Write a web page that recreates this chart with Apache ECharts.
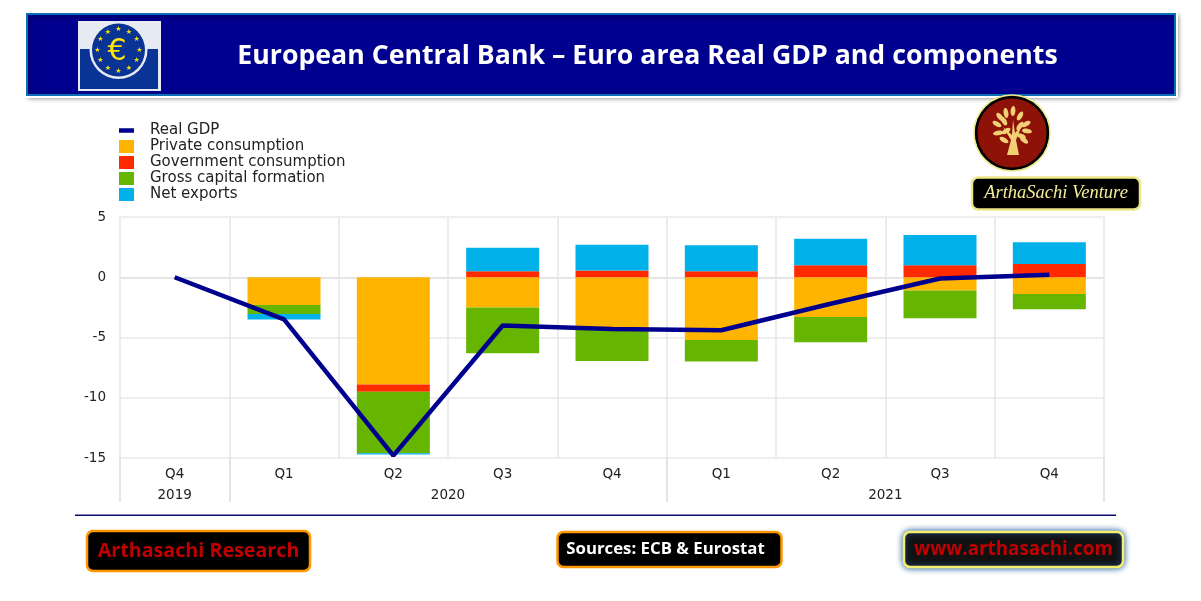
<!DOCTYPE html>
<html><head><meta charset="utf-8">
<style>html,body{margin:0;padding:0;background:#fff}#c{width:1201px;height:601px}</style>
<script src="https://cdn.jsdelivr.net/npm/echarts@6/dist/echarts.min.js"></script></head>
<body><div id="c"></div>
<script>
const quarters = ['Q4','Q1','Q2','Q3','Q4','Q1','Q2','Q3','Q4'];
const years = ['2019','2020','2021'];
const realGdp = [0,-3.5,-14.8,-4.0,-4.3,-4.4,-2.2,-0.1,0.2];
const privateConsumption = [0,-2.3,-8.9,-2.5,-4.2,-5.2,-3.3,-1.1,-1.4];
const governmentConsumption = [0,0,-0.6,0.5,0.55,0.5,1.0,1.0,1.1];
const grossCapitalFormation = [0,-0.75,-5.1,-3.8,-2.75,-1.8,-2.1,-2.3,-1.25];
const netExports = [0,-0.45,-0.1,1.95,2.15,2.15,2.2,2.5,1.8];
const C = {gdp:'#00008f',priv:'#ffb400',gov:'#ff2a00',gcf:'#66b500',net:'#00b1ea'};
const chart = echarts.init(document.getElementById('c'));
const txt = '#222';
const font = 'DejaVu Sans';
function bar(name,data,color){return {name,type:'bar',stack:'gdp',data,barWidth:73,itemStyle:{color},z:2,silent:true};}
const stars=[];for(let i=0;i<12;i++){const a=i*Math.PI/6;stars.push({type:'text',style:{text:'★',x:118.5+Math.sin(a)*21,y:50-Math.cos(a)*21,fill:'#ffe600',font:'7px DejaVu Sans',align:'center',verticalAlign:'middle'},z:13});}
const leaves=[[1000,117,-40],[1006,113,-10],[1013,111,5],[1020,116,30],[997,124,-60],[1004,121,-30],[1026,124,60],[1020,126,40],[998,133,80],[1006,131,60],[1027,131,100],[1021,136,110],[1004,140,120],[1024,140,130]];
const leafEls=leaves.map(l=>({type:'ellipse',shape:{cx:0,cy:0,rx:2.4,ry:5},x:l[0],y:l[1],rotation:-l[2]*Math.PI/180,style:{fill:'#f0cf75'},z:11}));
function box(x,y,w,h,stroke,fill,label,color,font2,shadow,tx){return [
 {type:'rect',shape:{x,y,width:w,height:h,r:6},style:Object.assign({fill,stroke,lineWidth:2.5},shadow?{shadowBlur:6,shadowColor:'#1d5c99'}:{}),z:10},
 {type:'text',style:{text:label,x:tx||x+w/2,y:y+h/2,fill:color,font:font2,align:'center',verticalAlign:'middle'},z:11}];}
chart.setOption({
 animation:false,backgroundColor:'#fff',
 grid:{left:120,top:217,width:984,height:241,containLabel:false},
 legend:{orient:'vertical',left:119,top:123,padding:0,itemGap:1,itemWidth:15,itemHeight:13,
  textStyle:{fontFamily:font,fontSize:15,lineHeight:13,color:txt,padding:[0,0,0,11]},
  data:[{name:'Real GDP',icon:'path://M0 4.5h15v4.5H0z'},{name:'Private consumption',icon:'rect'},{name:'Government consumption',icon:'rect'},{name:'Gross capital formation',icon:'rect'},{name:'Net exports',icon:'rect'}]},
 xAxis:[
  {type:'category',data:quarters,position:'bottom',
   axisLine:{show:true,lineStyle:{color:'#e2e2e2',width:1.5}},axisTick:{show:false},
   axisLabel:{color:txt,fontFamily:font,fontSize:13.5,margin:9},
   splitLine:{show:true,lineStyle:{color:'#e6e6e6',width:1.5}}},
  {type:'value',min:0,max:9,position:'bottom',axisLine:{show:false},splitLine:{show:false},
   axisTick:{show:true,length:44,inside:false,lineStyle:{color:'#dcdcdc',width:1.5},customValues:[0,1,5,9]},
   axisLabel:{color:txt,fontFamily:font,fontSize:13.5,margin:30,customValues:[0.5,3,7],
    formatter:v=>v<1?years[0]:(v<5?years[1]:years[2])}}
 ],
 yAxis:{type:'value',min:-15,max:5,interval:5,
  axisLine:{show:false},axisTick:{show:false},
  axisLabel:{color:txt,fontFamily:font,fontSize:13.5,margin:14},
  splitLine:{show:true,lineStyle:{color:'#e8e8e8',width:1.5}}},
 series:[
  {name:'Real GDP',type:'line',data:realGdp,symbol:'none',lineStyle:{color:C.gdp,width:4.5},itemStyle:{color:C.gdp},z:5,silent:true},
  bar('Private consumption',privateConsumption,C.priv),
  bar('Government consumption',governmentConsumption,C.gov),
  bar('Gross capital formation',grossCapitalFormation,C.gcf),
  bar('Net exports',netExports,C.net)
 ],
 graphic:[
  {type:'rect',shape:{x:27,y:14,width:1148,height:81},style:{fill:'#00008f',stroke:'#0a6fb5',lineWidth:2,shadowBlur:5,shadowColor:'rgba(0,0,0,.45)',shadowOffsetX:2,shadowOffsetY:2},z:8},
  {type:'rect',shape:{x:25,y:12,width:1152,height:85},style:{fill:'none',stroke:'#fff',lineWidth:2},z:9},
  {type:'text',style:{text:'European Central Bank – Euro area Real GDP and components',x:647.5,y:56,fill:'#fff',font:'bold 26.7px "Open Sans"',align:'center',verticalAlign:'middle'},z:10},
  {type:'rect',shape:{x:78,y:21,width:83,height:70},style:{fill:'#e6eaf2'},z:10},
  {type:'rect',shape:{x:80,y:49,width:78,height:40},style:{fill:'#0a3396'},z:11},
  {type:'circle',shape:{cx:118.5,cy:50,r:29},style:{fill:'#e6eaf2'},z:11},
  {type:'circle',shape:{cx:118.5,cy:50,r:26.5},style:{fill:'#0a3396'},z:12},
  {type:'text',style:{text:'€',x:117,y:52,fill:'#ffe600',font:'30px "DejaVu Sans"',align:'center',verticalAlign:'middle'},z:13},
  ...stars,
  {type:'circle',shape:{cx:1012,cy:133,r:36},style:{fill:'#8f1208',stroke:'#000',lineWidth:3},z:10},
  {type:'circle',shape:{cx:1012,cy:133,r:38},style:{fill:'none',stroke:'#eee78a',lineWidth:1.5},z:10},
  {type:'polygon',shape:{points:[[1007,155],[1011,140],[1003,127],[1012,135],[1013,120],[1015,133],[1022,125],[1016,140],[1019,155]]},style:{fill:'#f0cf75'},z:11},
  ...leafEls,
  ...box(972,177.5,168,32,'#eee78a','#000','ArthaSachi Venture','#f3ec9a','italic 18.5px "Liberation Serif"'),
  {type:'rect',shape:{x:75,y:514.5,width:1041,height:1.5},style:{fill:'#0b0b6e'},z:5},
  ...box(87,531,223,40,'#ff9600','#000','Arthasachi Research','#c00000','bold 19.7px "Open Sans"'),
  ...box(557.5,532,224,35,'#ff9600','#000','Sources: ECB & Eurostat','#fff','bold 16.8px "Open Sans"',false,665.5),
  ...box(904,532,219,35,'#f5ee70','#111','www.arthasachi.com','#c00000','bold 18.8px "Open Sans"',true)
 ]
});
</script></body></html>
